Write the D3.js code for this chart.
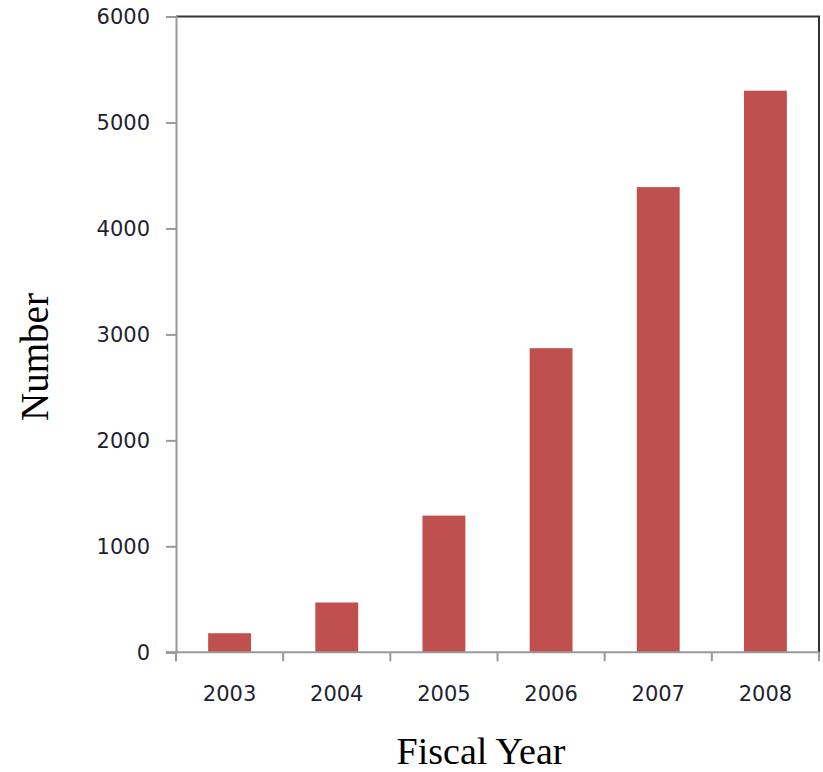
<!DOCTYPE html>
<html>
<head>
<meta charset="utf-8">
<script src="https://cdn.jsdelivr.net/npm/d3@7"></script>
<style>
  html, body { margin: 0; padding: 0; background: #fff; }
  svg { display: block; }
</style>
</head>
<body>
<svg id="chart" width="823" height="772"></svg>
<script>
const years = ["2003", "2004", "2005", "2006", "2007", "2008"];
const counts = [180, 470, 1290, 2870, 4390, 5300];
const yTicks = [0, 1000, 2000, 3000, 4000, 5000, 6000];
const xTitle = "Fiscal Year";
const yTitle = "Number";

(function () {
const svg = d3.select("#chart");
const pL = 176, pR = 819, pT = 16.5, pB = 652.3;

const x = d3.scaleBand().domain(years).range([pL, pR]).paddingInner(0.6).paddingOuter(0.3);
const y = d3.scaleLinear().domain([0, 6000]).range([pB, pT]);

// frame top & right (dark)
svg.append("path")
  .attr("d", `M${pL},${pT}H${pR}V${pB}`)
  .attr("fill", "none").attr("stroke", "#333").attr("stroke-width", 2);

// bars
svg.append("g").selectAll("rect").data(years).join("rect")
  .attr("x", d => x(d))
  .attr("width", x.bandwidth())
  .attr("y", (d, i) => y(counts[i]))
  .attr("height", (d, i) => pB - y(counts[i]))
  .attr("fill", "#C0504D");

// y axis
const yAxis = svg.append("g").attr("transform", `translate(${pL},0)`)
  .call(d3.axisLeft(y).tickValues(yTicks).tickSize(10).tickPadding(16).tickFormat(d3.format("d")));
yAxis.select(".domain").attr("stroke", "#999").attr("stroke-width", 2);
yAxis.selectAll(".tick line").attr("stroke", "#999").attr("stroke-width", 2);
yAxis.selectAll("text").attr("font-family", "DejaVu Sans, Verdana, sans-serif")
  .attr("font-size", 21).attr("fill", "#1f1f2f");

// x axis with ticks at category boundaries
const boundaries = d3.range(years.length + 1).map(i => pL + i * x.step());
const xAxisG = svg.append("g");
xAxisG.append("line").attr("x1", pL - 10).attr("x2", pR).attr("y1", pB).attr("y2", pB)
  .attr("stroke", "#999").attr("stroke-width", 2);
xAxisG.selectAll("line.tk").data(boundaries).join("line").attr("class", "tk")
  .attr("x1", d => d).attr("x2", d => d).attr("y1", pB).attr("y2", pB + 9)
  .attr("stroke", "#999").attr("stroke-width", 2);
xAxisG.selectAll("text").data(years).join("text")
  .attr("x", d => x(d) + x.bandwidth() / 2)
  .attr("y", 701)
  .attr("text-anchor", "middle")
  .attr("font-family", "DejaVu Sans, Verdana, sans-serif")
  .attr("font-size", 21).attr("fill", "#1f1f2f")
  .text(d => d);

// titles
svg.append("text").attr("x", 481).attr("y", 764).attr("text-anchor", "middle")
  .attr("font-family", "Liberation Serif, Times New Roman, serif").attr("font-size", 38)
  .attr("fill", "#000").text(xTitle);
svg.append("text").attr("transform", "translate(48,357) rotate(-90)").attr("text-anchor", "middle")
  .attr("font-family", "Liberation Serif, Times New Roman, serif").attr("font-size", 39)
  .attr("fill", "#000").text(yTitle);
})();
</script>
</body>
</html>
